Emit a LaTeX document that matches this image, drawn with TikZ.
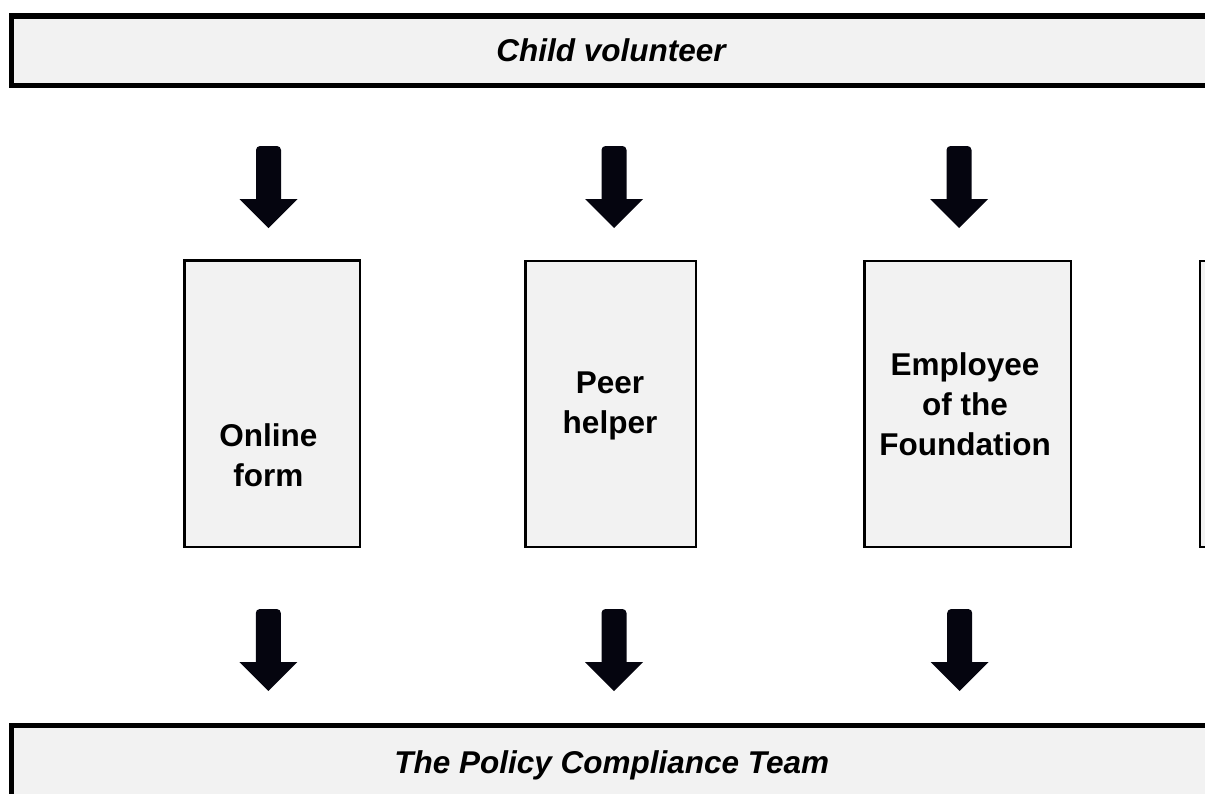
\documentclass[tikz,border=0pt]{standalone}
\usepackage{fontspec}
\setmainfont{Liberation Sans}
\definecolor{panel}{HTML}{F2F2F2}
\definecolor{ink}{HTML}{05050F}
\begin{document}
\begin{tikzpicture}[x=1pt,y=-1pt,
  bar/.style={draw=black, line width=5.3pt, fill=panel, inner sep=0pt, outer sep=0pt},
  stepbox/.style={draw=black, line width=2.2pt, fill=panel, inner sep=0pt, outer sep=0pt},
  boxtext/.style={font=\fontsize{31.5}{40}\selectfont\bfseries, align=center, inner sep=0pt},
  bartext/.style={font=\fontsize{31.5}{38}\selectfont\bfseries\itshape, inner sep=0pt, anchor=base},
  downarrow/.pic={
    \fill[ink] (-12.5,53) [rounded corners=4pt] -- (-12.5,0) -- (12.5,0)
      [sharp corners] -- (12.5,53) -- (29,53) -- (0,82) -- (-29,53) -- cycle;
  }
]
\useasboundingbox (0,0) rectangle (1205,793);
\clip (0,0) rectangle (1205,793);

% top and bottom bars (running past the page edge)
\node[bar, minimum width=1203pt, minimum height=69.7pt] (source) at (613.3,50.8) {};
\node[bartext] (sourcetext) at (611,61) {Child volunteer};

\node[bar, minimum width=1203pt, minimum height=88.4pt] (team) at (613.3,770) {};
\node[bartext] (teamtext) at (611.7,773.3) {The Policy Compliance Team};

% channel boxes
\node[stepbox, minimum width=175.5pt, minimum height=286.8pt] (form) at (272.2,403.8) {};
\node[stepbox, minimum width=170.2pt, minimum height=285.8pt] (peer) at (610.5,404) {};
\node[stepbox, minimum width=206.8pt, minimum height=285.8pt] (staff) at (967.8,404) {};
\node[stepbox, minimum width=200pt, minimum height=285.8pt] (more) at (1300.3,404) {};

\node[boxtext] (formtext) at (268.4,455.5) {Online\\form};
\node[boxtext] (peertext) at (610,405.6) {Peer\\helper};
\node[boxtext] (stafftext) at (965,404) {Employee\\of the\\Foundation};

% block arrows from the volunteer to each channel
\pic at (268.5,146) {downarrow};
\pic at (614,146) {downarrow};
\pic at (959,146) {downarrow};

% block arrows from each channel to the team
\pic at (268.3,609) {downarrow};
\pic at (614,609) {downarrow};
\pic at (959.7,609) {downarrow};
\end{tikzpicture}
\end{document}
